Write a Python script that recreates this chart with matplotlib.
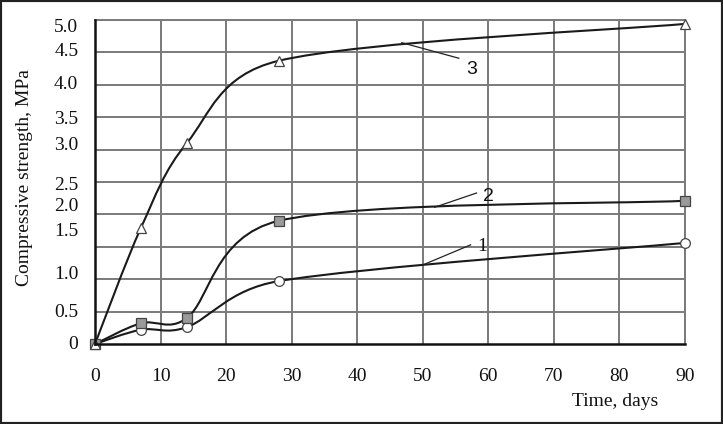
import matplotlib
matplotlib.use("Agg")
import numpy as np
import matplotlib.pyplot as plt
from matplotlib.path import Path
from matplotlib.patches import PathPatch, Rectangle

# data
days = [0, 7, 14, 28, 90]
strength_1 = [0.0, 0.22, 0.26, 0.97, 1.56]
strength_2 = [0.0, 0.32, 0.40, 1.90, 2.21]
strength_3 = [0.0, 1.79, 3.10, 4.37, 4.94]

x_ticks = [0, 10, 20, 30, 40, 50, 60, 70, 80, 90]
y_grid = [0.0, 0.5, 1.0, 1.5, 2.0, 2.5, 3.0, 3.5, 4.0, 4.5, 5.0]
y_labels = ["0", "0.5", "1.0", "1.5", "2.0", "2.5", "3.0", "3.5", "4.0", "4.5", "5.0"]
# the scanned original has its y labels slightly off the grid lines
y_label_pos = [0.02, 0.52, 1.10, 1.76, 2.15, 2.48, 3.10, 3.49, 4.04, 4.54, 4.91]

# curve labels: (point on curve, end of leader, text position, text, font)
callouts = [
    ((50.0, 1.22), (57.3, 1.53), (58.3, 1.50), "1", "Liberation Serif"),
    ((51.8, 2.11), (58.2, 2.33), (59.2, 2.27), "2", "Liberation Sans"),
    ((46.8, 4.65), (55.5, 4.41), (56.6, 4.24), "3", "Liberation Sans"),
]


def smooth_path(ax, xs, ys):
    # Excel-like smoothed line, built in screen space so the shape
    # does not depend on the axis units
    pts = ax.transData.transform(np.column_stack([xs, ys]))
    n = len(pts)

    def ctrl(base, d, seg_len):
        step = d / 6
        ln = np.hypot(*step)
        if ln > 0.5 * seg_len:
            step = step * (0.5 * seg_len / ln)
        return base + step

    verts = [pts[0]]
    codes = [Path.MOVETO]
    for i in range(n - 1):
        p0 = pts[max(i - 1, 0)]
        p1 = pts[i]
        p2 = pts[i + 1]
        p3 = pts[min(i + 2, n - 1)]
        seg = np.hypot(*(p2 - p1))
        c1 = ctrl(p1, p2 - p0, seg)
        c2 = ctrl(p2, -(p3 - p1), seg)
        verts += [c1, c2, p2]
        codes += [Path.CURVE4] * 3
    verts = ax.transData.inverted().transform(np.array(verts))
    return Path(verts, codes)


plt.rcParams['font.family'] = ['Liberation Serif', 'DejaVu Serif']

fig = plt.figure(figsize=(7.23, 4.24), dpi=100)
ax = fig.add_axes([95 / 723, 1 - 344 / 424, 590 / 723, 324 / 424])
ax.set_xlim(0, 90)
ax.set_ylim(0, 5)

grid_col = '#7a7a7a'
for x in x_ticks[1:]:
    ax.axvline(x, color=grid_col, lw=1.4, zorder=1)
for y in y_grid[1:]:
    ax.axhline(y, color=grid_col, lw=1.4, zorder=1)

series = [
    (strength_1, 'o', 'white', 7),
    (strength_2, 's', '#9a9a9a', 7),
    (strength_3, '^', 'white', 7),
]
for i, (vals, mk, fc, ms) in enumerate(series):
    ax.add_patch(PathPatch(smooth_path(ax, days, vals), facecolor='none',
                           edgecolor='#1a1a1a', lw=1.5, zorder=3))
    ax.plot(days, vals, linestyle='none', marker=mk, ms=ms, mfc=fc,
            mec='#444444', mew=0.9, zorder=4 + i, clip_on=False)

for start, end, txt_pos, txt, fam in callouts:
    ax.plot([start[0], end[0]], [start[1], end[1]], color='#222222',
            lw=0.9, zorder=3)
    ax.text(txt_pos[0], txt_pos[1], txt, fontsize=14, family=fam,
            ha='left', va='center', color='#111111')

ax.set_xticks(x_ticks)
ax.set_yticks(y_label_pos)
ax.set_yticklabels(y_labels)
ax.tick_params(axis='x', length=0, pad=17, labelsize=14, colors='#111111')
ax.tick_params(axis='y', length=0, pad=12, labelsize=14, colors='#111111')

for side in ['top', 'right']:
    ax.spines[side].set_color(grid_col)
    ax.spines[side].set_linewidth(1.4)
for side in ['left', 'bottom']:
    ax.spines[side].set_color('#111111')
    ax.spines[side].set_linewidth(1.8)
    ax.spines[side].set_zorder(6)

fig.text(25 / 723, 1 - 178 / 424, "Compressive strength, MPa", rotation=90,
         ha='center', va='center', fontsize=14, color='#111111')
fig.text(615 / 723, 1 - 402 / 424, "Time, days", ha='center', va='center',
         fontsize=14, color='#111111')

fig.patches.append(Rectangle((0, 0), 1, 1, transform=fig.transFigure,
                             fill=False, edgecolor='#222222', lw=3))

fig.savefig("out.png", dpi=100)
